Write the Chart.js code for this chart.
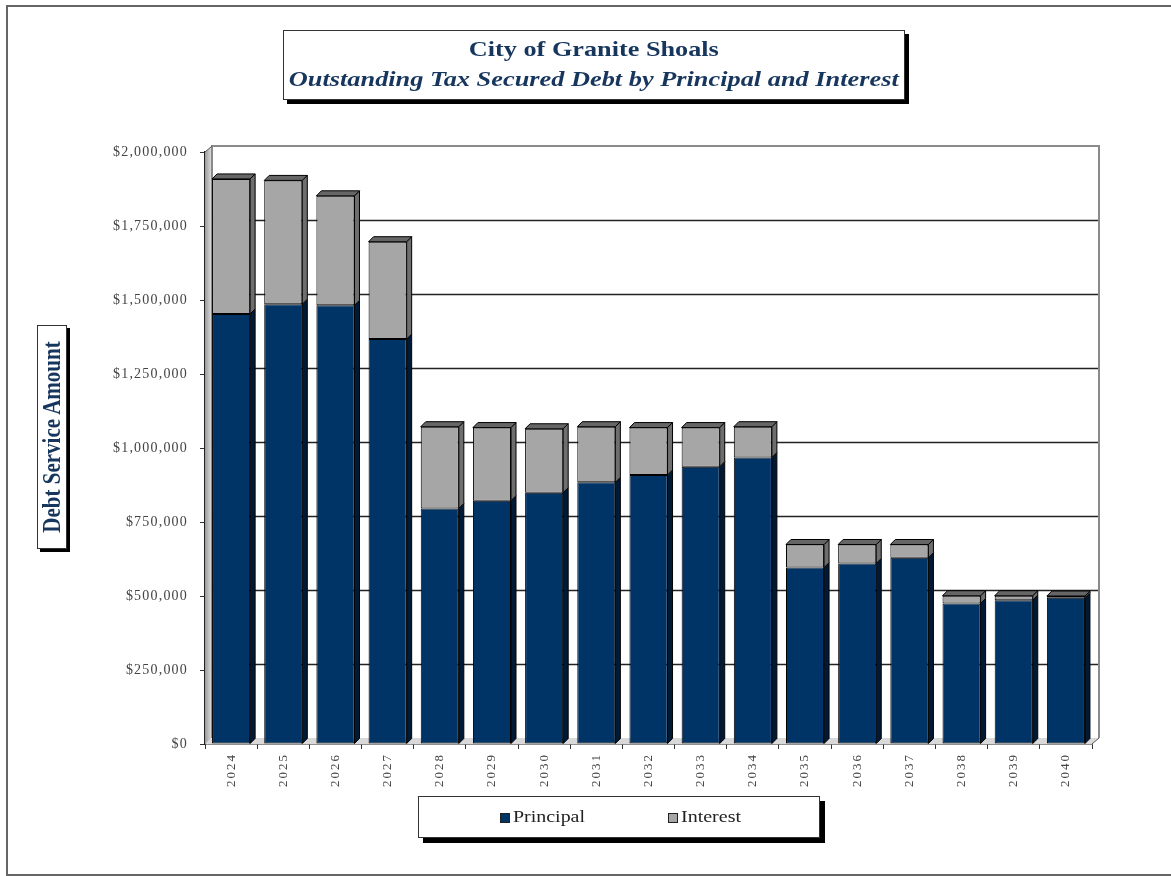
<!DOCTYPE html>
<html>
<head>
<meta charset="utf-8">
<script src="https://cdn.jsdelivr.net/npm/chart.js@4.4.1/dist/chart.umd.min.js"></script>
<style>
  body { margin: 0; background: #fff; font-family: "Liberation Serif", serif; }
  #wrap { position: relative; width: 1171px; height: 876px; overflow: hidden; }
  #frame { position: absolute; left: 6px; top: 5px; width: 1220px; height: 867px; border: 2px solid #666; }
  canvas { position: absolute; left: 0; top: 0; }
  .box { position: absolute; background: #fff; border: 1.5px solid #333; box-shadow: 4px 4px 0 #000; }
  .fit { display: inline-block; white-space: nowrap; transform-origin: center center; }
  #title { left: 283px; top: 30px; width: 620px; height: 68px; text-align: center; color: #17365d; font-weight: bold; }
  #t1 { position: absolute; left: 0; right: 0; top: 5px; font-size: 22px; line-height: 26px; }
  #t2 { position: absolute; left: 0; right: 0; top: 35px; font-size: 22px; line-height: 26px; font-style: italic; }
  #ytitle { left: 37px; top: 325px; width: 28px; height: 222px; box-shadow: 3px 3px 0 #000; }
  #ytitle span { position: absolute; left: 50%; top: 50%; white-space: nowrap; font-weight: bold; font-size: 21px; color: #17365d;
    transform: translate(-50%, -50%) rotate(-90deg) scaleY(1.2); }
  #legend { left: 418px; top: 796px; width: 400px; height: 40px; box-shadow: 5px 5px 0 #000; }
  .item { position: absolute; top: 10px; font-size: 16px; line-height: 20px; color: #222; }
  .sw { position: absolute; top: 16px; width: 8px; height: 8px; border: 1px solid #222; }
</style>
</head>
<body>
<div id="wrap">
  <div id="frame"></div>
  <canvas id="chart" width="1171" height="876"></canvas>
  <div class="box" id="title">
    <div id="t1"><span class="fit" data-w="250">City of Granite Shoals</span></div>
    <div id="t2"><span class="fit" data-w="610">Outstanding Tax Secured Debt by Principal and Interest</span></div>
  </div>
  <div class="box" id="ytitle"><span>Debt Service Amount</span></div>
  <div class="box" id="legend">
    <div class="sw" style="left:81px;background:#003366"></div>
    <div class="item" style="left:94px"><span class="fit" data-w="72" style="transform-origin:left center">Principal</span></div>
    <div class="sw" style="left:249px;background:#a6a6a6"></div>
    <div class="item" style="left:262px"><span class="fit" data-w="60" style="transform-origin:left center">Interest</span></div>
  </div>
</div>
<script>
const years = ["2024", "2025", "2026", "2027", "2028", "2029", "2030", "2031", "2032",
  "2033", "2034", "2035", "2036", "2037", "2038", "2039", "2040"];
const principal = [1453000, 1486000, 1482000, 1368000, 796000, 822000, 849000, 884000, 909000,
  937000, 968000, 596000, 610000, 629000, 475000, 486000, 494000];
const interest = [456000, 418000, 370000, 329000, 276000, 247000, 216000, 188000, 160000,
  132000, 104000, 78000, 64000, 45000, 26000, 15000, 6000];
const yMax = 2000000;
const yStep = 250000;

// stretch the html text to the widths seen in the picture
document.querySelectorAll(".fit").forEach(function (el) {
    var w = el.getBoundingClientRect().width;
    el.style.transform = "scaleX(" + (el.dataset.w / w) + ")";
});

const WX = 7, WY = -6;   // back wall offset
const BX = 5, BY = -5;   // bar depth
const sideCols = ["#001a36", "#6e6e6e"];

function poly(ctx, pts, fill, stroke) {
    ctx.beginPath();
    ctx.moveTo(pts[0][0], pts[0][1]);
    for (var i = 1; i < pts.length; i++) ctx.lineTo(pts[i][0], pts[i][1]);
    ctx.closePath();
    if (fill) { ctx.fillStyle = fill; ctx.fill(); }
    if (stroke) { ctx.strokeStyle = stroke; ctx.lineWidth = 1; ctx.stroke(); }
}

const depth = {
    id: "depth",
    beforeDatasetsDraw(chart) {
        const ctx = chart.ctx, a = chart.chartArea, y = chart.scales.y;
        ctx.save();
        var g = ctx.createLinearGradient(a.left, 0, a.left + WX, 0);
        g.addColorStop(0, "#9a9a9a");
        g.addColorStop(1, "#e2e2e2");
        poly(ctx, [[a.left, a.top], [a.left + WX, a.top + WY], [a.left + WX, a.bottom + WY], [a.left, a.bottom]], g);
        poly(ctx, [[a.left, a.bottom], [a.left + WX, a.bottom + WY], [a.right + WX, a.bottom + WY], [a.right, a.bottom]], "#d9d9d9");
        ctx.lineWidth = 1.5;
        ctx.strokeStyle = "#222";
        y.ticks.forEach(function (t) {
            if (t.value === 0 || t.value === yMax) return;
            var py = Math.round(y.getPixelForValue(t.value) + WY) + 0.5;
            ctx.beginPath();
            ctx.moveTo(a.left + WX, py);
            ctx.lineTo(a.right + WX, py);
            ctx.stroke();
        });
        ctx.strokeStyle = "#8a8a8a";
        ctx.lineWidth = 2;
        ctx.beginPath();
        ctx.moveTo(a.left + WX, a.bottom + WY);
        ctx.lineTo(a.left + WX, a.top + WY);
        ctx.lineTo(a.right + WX, a.top + WY);
        ctx.lineTo(a.right + WX, a.bottom + WY);
        ctx.stroke();
        ctx.lineWidth = 1;
        ctx.strokeStyle = "#555";
        ctx.beginPath();
        ctx.moveTo(a.left, a.top);
        ctx.lineTo(a.left + WX, a.top + WY);
        ctx.moveTo(a.right, a.bottom);
        ctx.lineTo(a.right + WX, a.bottom + WY);
        ctx.stroke();
        ctx.restore();
    },
    afterDatasetsDraw(chart) {
        const ctx = chart.ctx;
        const last = chart.data.datasets.length - 1;
        ctx.save();
        chart.data.datasets.forEach(function (ds, di) {
            chart.getDatasetMeta(di).data.forEach(function (bar) {
                const p = bar.getProps(["x", "y", "base", "width"], true);
                const l = p.x - p.width / 2, r = p.x + p.width / 2;
                poly(ctx, [[r, p.y], [r + BX, p.y + BY], [r + BX, p.base + BY], [r, p.base]], sideCols[di], "#000");
                if (di === last) {
                    poly(ctx, [[l, p.y], [l + BX, p.y + BY], [r + BX, p.y + BY], [r, p.y]], "#666", "#000");
                }
            });
        });
        ctx.restore();
    }
};

// wider letter spacing on the tick labels, like the scanned original
const spacing = {
    id: "spacing",
    beforeDraw(chart) {
        [["x", "2px"], ["y", "1.2px"]].forEach(function (s) {
            var sc = chart.scales[s[0]];
            if (sc._spaced) return;
            var orig = sc.drawLabels;
            sc.drawLabels = function (area) {
                this.ctx.save();
                this.ctx.letterSpacing = s[1];
                orig.call(this, area);
                this.ctx.restore();
            };
            sc._spaced = true;
        });
    }
};

new Chart(document.getElementById("chart"), {
    type: "bar",
    data: {
        labels: years,
        datasets: [
            {
                label: "Principal",
                data: principal,
                backgroundColor: "#003366",
                borderColor: "#000",
                borderWidth: 1,
                borderSkipped: false,
                categoryPercentage: 1,
                barPercentage: 0.73,
            },
            {
                label: "Interest",
                data: interest,
                backgroundColor: "#a6a6a6",
                borderColor: "#000",
                borderWidth: 1,
                borderSkipped: false,
                categoryPercentage: 1,
                barPercentage: 0.73,
            },
        ],
    },
    options: {
        responsive: false,
        animation: false,
        layout: { padding: { top: 152, right: 79, left: 0, bottom: 0 } },
        plugins: { legend: { display: false }, tooltip: { enabled: false } },
        scales: {
            x: {
                stacked: true,
                afterFit: function (s) { s.height = 132; },
                grid: { drawOnChartArea: false, drawTicks: true, tickLength: 5, color: "#333" },
                border: { display: true, color: "#222", width: 1.5 },
                ticks: {
                    minRotation: 90,
                    maxRotation: 90,
                    padding: 4,
                    color: "#444",
                    font: { family: "Liberation Serif", size: 13 },
                },
            },
            y: {
                stacked: true,
                min: 0,
                max: yMax,
                afterFit: function (s) { s.width = 205; },
                grid: { drawOnChartArea: false, drawTicks: true, tickLength: 5, color: "#333" },
                border: { display: true, color: "#222", width: 1.5 },
                ticks: {
                    stepSize: yStep,
                    padding: 12,
                    color: "#444",
                    font: { family: "Liberation Serif", size: 14 },
                    callback: function (v) { return "$" + v.toLocaleString("en-US"); },
                },
            },
        },
    },
    plugins: [depth, spacing],
});
</script>
</body>
</html>
